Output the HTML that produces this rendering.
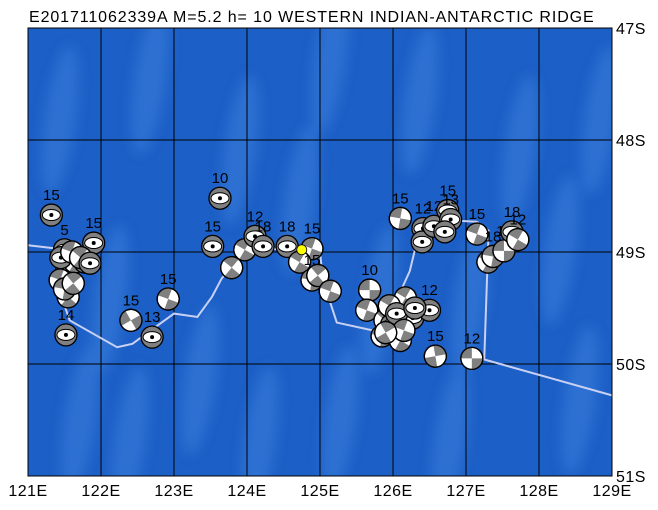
<!DOCTYPE html>
<html><head><meta charset="utf-8">
<style>
body{margin:0;background:#fff;width:658px;height:505px;overflow:hidden;font-family:"Liberation Sans",sans-serif}
svg text{font-family:"Liberation Sans",sans-serif}
</style></head><body>
<svg id="map" width="658" height="505" viewBox="0 0 658 505" xmlns="http://www.w3.org/2000/svg">
<defs>
<filter id="bl" x="-50%" y="-50%" width="200%" height="200%"><feGaussianBlur stdDeviation="6"/></filter>
<clipPath id="clip"><rect x="28" y="28" width="584" height="448"/></clipPath>
</defs>
<text x="29" y="22" font-size="16" letter-spacing="0.9" fill="#000">E201711062339A M=5.2 h= 10 WESTERN INDIAN-ANTARCTIC RIDGE</text>
<rect x="28" y="28" width="584" height="448" fill="#1c5fc6"/>
<g id="bathy" clip-path="url(#clip)" filter="url(#bl)" fill="#3478d8" opacity="0.7"></g>
<g id="grid"></g>
<polyline id="ridge" fill="none" stroke="#c8d0f4" stroke-width="2"/>
<g id="balls"></g>
<rect x="28" y="28" width="584" height="448" fill="none" stroke="#000" stroke-width="1"/>
<g id="labels"></g>
</svg>
<script>
const lonTicks=[121,122,123,124,125,126,127,128,129];
const latTicks=[47,48,49,50,51];
const evLon=[121.32,121.5,121.9,121.53,121.64,121.78,121.44,121.55,121.52,122.41,122.7,122.92,123.63,123.53,123.79,123.97,124.11,124.22,124.55,124.89,124.72,124.89,124.97,125.14,126.1,125.68,125.64,125.89,125.85,126.1,125.98,126.27,126.5,126.17,126.58,127.08,126.41,126.4,126.56,126.75,126.79,126.71,127.15,127.3,127.37,127.52,127.63,127.71,121.45,121.6,121.72,121.85,121.5,121.62,125.95,126.05,126.15,125.9,126.3];
const evLat=[48.67,48.98,48.92,49.14,49.09,49.09,49.25,49.4,49.74,49.61,49.76,49.42,48.52,48.95,49.14,48.98,48.86,48.95,48.95,48.97,49.09,49.25,49.21,49.35,48.7,49.34,49.52,49.61,49.75,49.79,49.65,49.59,49.52,49.41,49.93,49.95,48.79,48.91,48.77,48.63,48.71,48.82,48.84,49.09,49.04,48.99,48.82,48.89,49.05,49.0,49.05,49.1,49.33,49.28,49.48,49.55,49.7,49.72,49.5];
const evDepth=["15","5","15","","","","","","14","15","13","15","10","15","","","12","18","18","15","","15","","","15","10","","","","","","","12","","15","12","12","","12","15","13","","15","","18","11","18","12","","","","","","","","","","",""];
const evType=["n","n","n","n","ss","ss","ss","ss","n","ss","n","ss","n","n","ss","ss","n","n","n","ss","ss","ss","ss","ss","ss","ss","ss","ss","ss","ss","n","n","n","ss","ss","ss","n","n","n","n","n","n","ss","ss","ss","ss","n","ss","n","ss","ss","n","ss","ss","ss","n","ss","ss","n"];
const evAngle=[0,0,0,0,30,60,20,40,0,-30,0,20,0,0,40,30,0,0,0,20,30,10,50,20,10,0,20,40,10,30,0,0,0,30,80,0,0,0,0,0,0,0,20,30,10,0,0,30,0,20,40,0,10,50,30,0,20,60,0];
const ridgeLon=[121,121.8,121.45,121.57,122.22,122.43,123.0,123.32,123.52,123.65,124.0,124.5,125.0,125.04,125.23,125.72,126.0,126.23,126.33,126.55,127.15,127.31,127.25,129];
const ridgeLat=[48.94,49.0,49.38,49.61,49.85,49.82,49.55,49.58,49.4,49.24,48.95,48.98,49.0,49.25,49.63,49.7,49.5,49.17,48.9,48.71,48.73,48.81,49.96,50.28];
const mainLon=[124.75], mainLat=[48.98];
const x=l=>28+(l-121)*73, y=l=>28+(l-47)*112;
const NS="http://www.w3.org/2000/svg";
function el(t,a,p){const e=document.createElementNS(NS,t);for(const k in a)e.setAttribute(k,a[k]);p.appendChild(e);return e;}
const bathy=document.getElementById('bathy');
const bx=[60,110,150,200,240,300,340,420,470,520,580,380,260,130,560,80,450,330,600];
const by=[120,300,80,380,150,200,420,100,300,150,400,300,440,440,250,420,440,60,120];
bx.forEach((v,i)=>{const e=el('ellipse',{cx:v,cy:by[i],rx:16,ry:75,transform:`rotate(8 ${v} ${by[i]})`},bathy);

});
const grid=document.getElementById('grid'),lab=document.getElementById('labels');
lonTicks.forEach(l=>{const g=el('line',{x1:x(l),x2:x(l),y1:28,y2:476,stroke:'#000','stroke-width':1},grid);

const t=el('text',{x:x(l),y:496,'font-size':16,'letter-spacing':0.5,'text-anchor':'middle'},lab);t.textContent=l+'E';
});
latTicks.forEach(l=>{const g=el('line',{x1:28,x2:612,y1:y(l),y2:y(l),stroke:'#000','stroke-width':1},grid);

const t=el('text',{x:616,y:y(l)+6,'font-size':16,'letter-spacing':0.5},lab);t.textContent=l+'S';
});
document.getElementById('ridge').setAttribute('points',ridgeLon.map((l,i)=>x(l)+','+y(ridgeLat[i])).join(' '));
const balls=document.getElementById('balls');
evLon.forEach((l,i)=>{const cx=x(l),cy=y(evLat[i]),r=11;
const g=el('g',{transform:`translate(${cx},${cy}) rotate(${evAngle[i]})`},balls);

if(evType[i]==='n'){el('circle',{r:r,fill:'#808080',stroke:'#000','stroke-width':1.3},g);
el('ellipse',{rx:9,ry:5.5,fill:'#fff',stroke:'#000','stroke-width':1},g);el('circle',{r:2,fill:'#000'},g);}
else{el('circle',{r:r,fill:'#fff',stroke:'#000','stroke-width':1.3},g);
el('path',{d:`M0 0 L${r} 0 A${r} ${r} 0 0 1 0 ${r} Z M0 0 L${-r} 0 A${r} ${r} 0 0 1 0 ${-r} Z`,fill:'#808080'},g);
el('circle',{r:r,fill:'none',stroke:'#000','stroke-width':1.3},g);}
if(evDepth[i]){const t=el('text',{x:cx,y:cy-15,'font-size':15,'text-anchor':'middle'},balls);t.textContent=evDepth[i];
}});
mainLon.forEach((l,i)=>{const c=el('circle',{cx:x(l),cy:y(mainLat[i]),r:5,fill:'#ffff00',stroke:'#000','stroke-width':0.8},balls);
});
</script>
</body></html>
